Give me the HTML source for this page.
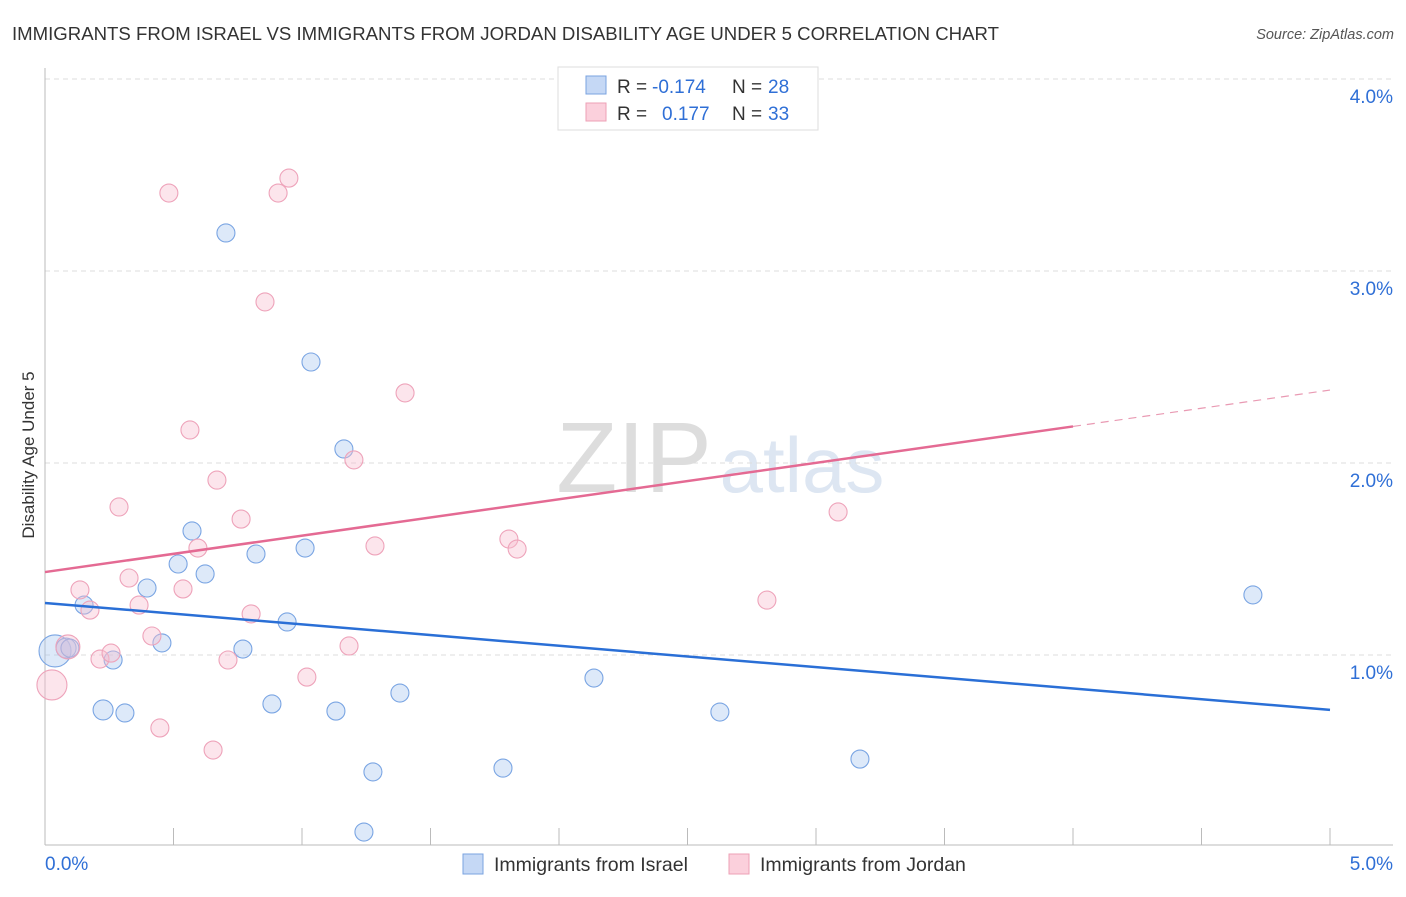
<!DOCTYPE html>
<html><head><meta charset="utf-8"><style>
body{margin:0;background:#fff;font-family:"Liberation Sans",sans-serif}
svg text{font-family:"Liberation Sans",sans-serif}
</style></head><body>
<svg id="c" width="1406" height="892">
<text x="12" y="40" font-size="18.6" fill="#333">IMMIGRANTS FROM ISRAEL VS IMMIGRANTS FROM JORDAN DISABILITY AGE UNDER 5 CORRELATION CHART</text>
<text x="1394" y="39" font-size="14.5" fill="#555" text-anchor="end" font-style="italic">Source: ZipAtlas.com</text>
<text x="634" y="492" font-size="100" fill="#ddd" text-anchor="middle" font-family="Liberation Serif">ZIP</text>
<text x="802" y="492" font-size="78" fill="#dde6f2" text-anchor="middle">atlas</text>
<text x="34" y="455" font-size="17" fill="#333" text-anchor="middle" transform="rotate(-90 34 455)">Disability Age Under 5</text>
<g id="axes"></g>
<g id="marks"></g>
<g>
<rect x="558" y="67" width="260" height="63" fill="#fff" stroke="#ddd"/>
<rect x="586" y="76" width="20" height="18" fill="#c5d8f5" stroke="#7aa3e0"/>
<rect x="586" y="103" width="20" height="18" fill="#fbd0dc" stroke="#eea0b6"/>
<text x="617" y="93" font-size="19" fill="#333">R =</text>
<text x="652" y="93" font-size="19" fill="#2f6fd6">-0.174</text>
<text x="732" y="93" font-size="19" fill="#333">N =</text>
<text x="768" y="93" font-size="19" fill="#2f6fd6">28</text>
<text x="617" y="120" font-size="19" fill="#333">R =</text>
<text x="662" y="120" font-size="19" fill="#2f6fd6">0.177</text>
<text x="732" y="120" font-size="19" fill="#333">N =</text>
<text x="768" y="120" font-size="19" fill="#2f6fd6">33</text>
</g>
<g>
<rect x="463" y="854" width="20" height="20" fill="#c5d8f5" stroke="#7aa3e0"/>
<text x="494" y="871" font-size="19.5" fill="#333">Immigrants from Israel</text>
<rect x="729" y="854" width="20" height="20" fill="#fbd0dc" stroke="#eea0b6"/>
<text x="760" y="871" font-size="19.5" fill="#333">Immigrants from Jordan</text>
</g>
</svg>
<script>
const israelX=[0.039,0.082,0.097,0.152,0.265,0.226,0.311,0.397,0.455,0.518,0.572,0.623,0.704,0.770,0.821,0.883,0.942,1.012,1.035,1.132,1.163,1.276,1.241,1.381,1.782,2.136,2.626,3.171,4.700];
const israelY=[1.021,1.036,1.036,1.260,0.974,0.714,0.698,1.349,1.063,1.474,1.646,1.422,3.198,1.031,1.526,0.745,1.172,1.557,2.526,0.708,2.073,0.391,0.078,0.802,0.411,0.880,0.703,0.458,1.313];
const israelR=[16,10,9,9,9,10,9,9,9,9,9,9,9,9,9,9,9,9,9,9,9,9,9,9,9,9,9,9,9];
const jordanX=[0.027,0.089,0.136,0.175,0.214,0.257,0.288,0.327,0.366,0.416,0.447,0.482,0.537,0.564,0.595,0.669,0.712,0.763,0.654,0.802,0.856,0.907,0.949,1.019,1.183,1.202,1.284,1.401,1.805,1.837,2.809,3.086];
const jordanY=[0.844,1.042,1.339,1.234,0.979,1.010,1.771,1.401,1.260,1.099,0.620,3.406,1.344,2.172,1.557,1.911,0.974,1.708,0.505,1.214,2.839,3.406,3.484,0.885,1.047,2.016,1.568,2.365,1.604,1.552,1.286,1.745];
const jordanR=[15,12,9,9,9,9,9,9,9,9,9,9,9,9,9,9,9,9,9,9,9,9,9,9,9,9,9,9,9,9,9,9];
const israelTrend=[1.271,0.714];
const jordanTrend=[1.432,2.380];
const yTicks=[1,2,3,4];
const yTickLabels=["1.0%","2.0%","3.0%","4.0%"];
const xTicks=[0.5,1,1.5,2,2.5,3,3.5,4,4.5,5];
const NS="http://www.w3.org/2000/svg";
const sx=v=>45+v*257, sy=v=>847-v*192;
function mk(t,a,p){const e=document.createElementNS(NS,t);for(const k in a)e.setAttribute(k,a[k]);p.appendChild(e);return e;}
const ax=document.getElementById('axes'), mg=document.getElementById('marks');
yTicks.forEach((v,i)=>{
 const g=mk('line',{x1:45,x2:1393,y1:sy(v),y2:sy(v),stroke:'#ddd','stroke-dasharray':'5,4'},ax);
 
 
 const t=mk('text',{x:1393,y:sy(v)+24,'font-size':19,fill:'#2f6fd6','text-anchor':'end'},ax);t.textContent=yTickLabels[i];
 
 
});
let l=mk('line',{x1:45,x2:45,y1:68,y2:845,stroke:'#bbb'},ax);


l=mk('line',{x1:45,x2:1393,y1:845,y2:845,stroke:'#bbb'},ax);


xTicks.forEach(v=>{const t=mk('line',{x1:sx(v),x2:sx(v),y1:828,y2:845,stroke:'#bbb'},ax);
 
 });
let t=mk('text',{x:45,y:870,'font-size':19,fill:'#2f6fd6'},ax);t.textContent='0.0%';


t=mk('text',{x:1393,y:870,'font-size':19,fill:'#2f6fd6','text-anchor':'end'},ax);t.textContent='5.0%';


israelX.forEach((x,i)=>{const c=mk('circle',{cx:sx(x),cy:sy(israelY[i]),r:israelR[i],fill:'rgba(170,200,240,0.4)',stroke:'#7aa5e3','stroke-width':1.1},mg);
 
 });
jordanX.forEach((x,i)=>{const c=mk('circle',{cx:sx(x),cy:sy(jordanY[i]),r:jordanR[i],fill:'rgba(248,190,208,0.4)',stroke:'#eea3ba','stroke-width':1.1},mg);
 
 });
l=mk('line',{x1:sx(0),y1:sy(israelTrend[0]),x2:sx(5),y2:sy(israelTrend[1]),stroke:'#2a6fd6','stroke-width':2.5},mg);


const jm=jordanTrend[0]+(jordanTrend[1]-jordanTrend[0])*0.8;
l=mk('line',{x1:sx(0),y1:sy(jordanTrend[0]),x2:sx(4),y2:sy(jm),stroke:'#e46a93','stroke-width':2.5},mg);


l=mk('line',{x1:sx(4),y1:sy(jm),x2:sx(5),y2:sy(jordanTrend[1]),stroke:'#e99ab3','stroke-width':1.2,'stroke-dasharray':'8,6'},mg);


</script>
</body></html>
